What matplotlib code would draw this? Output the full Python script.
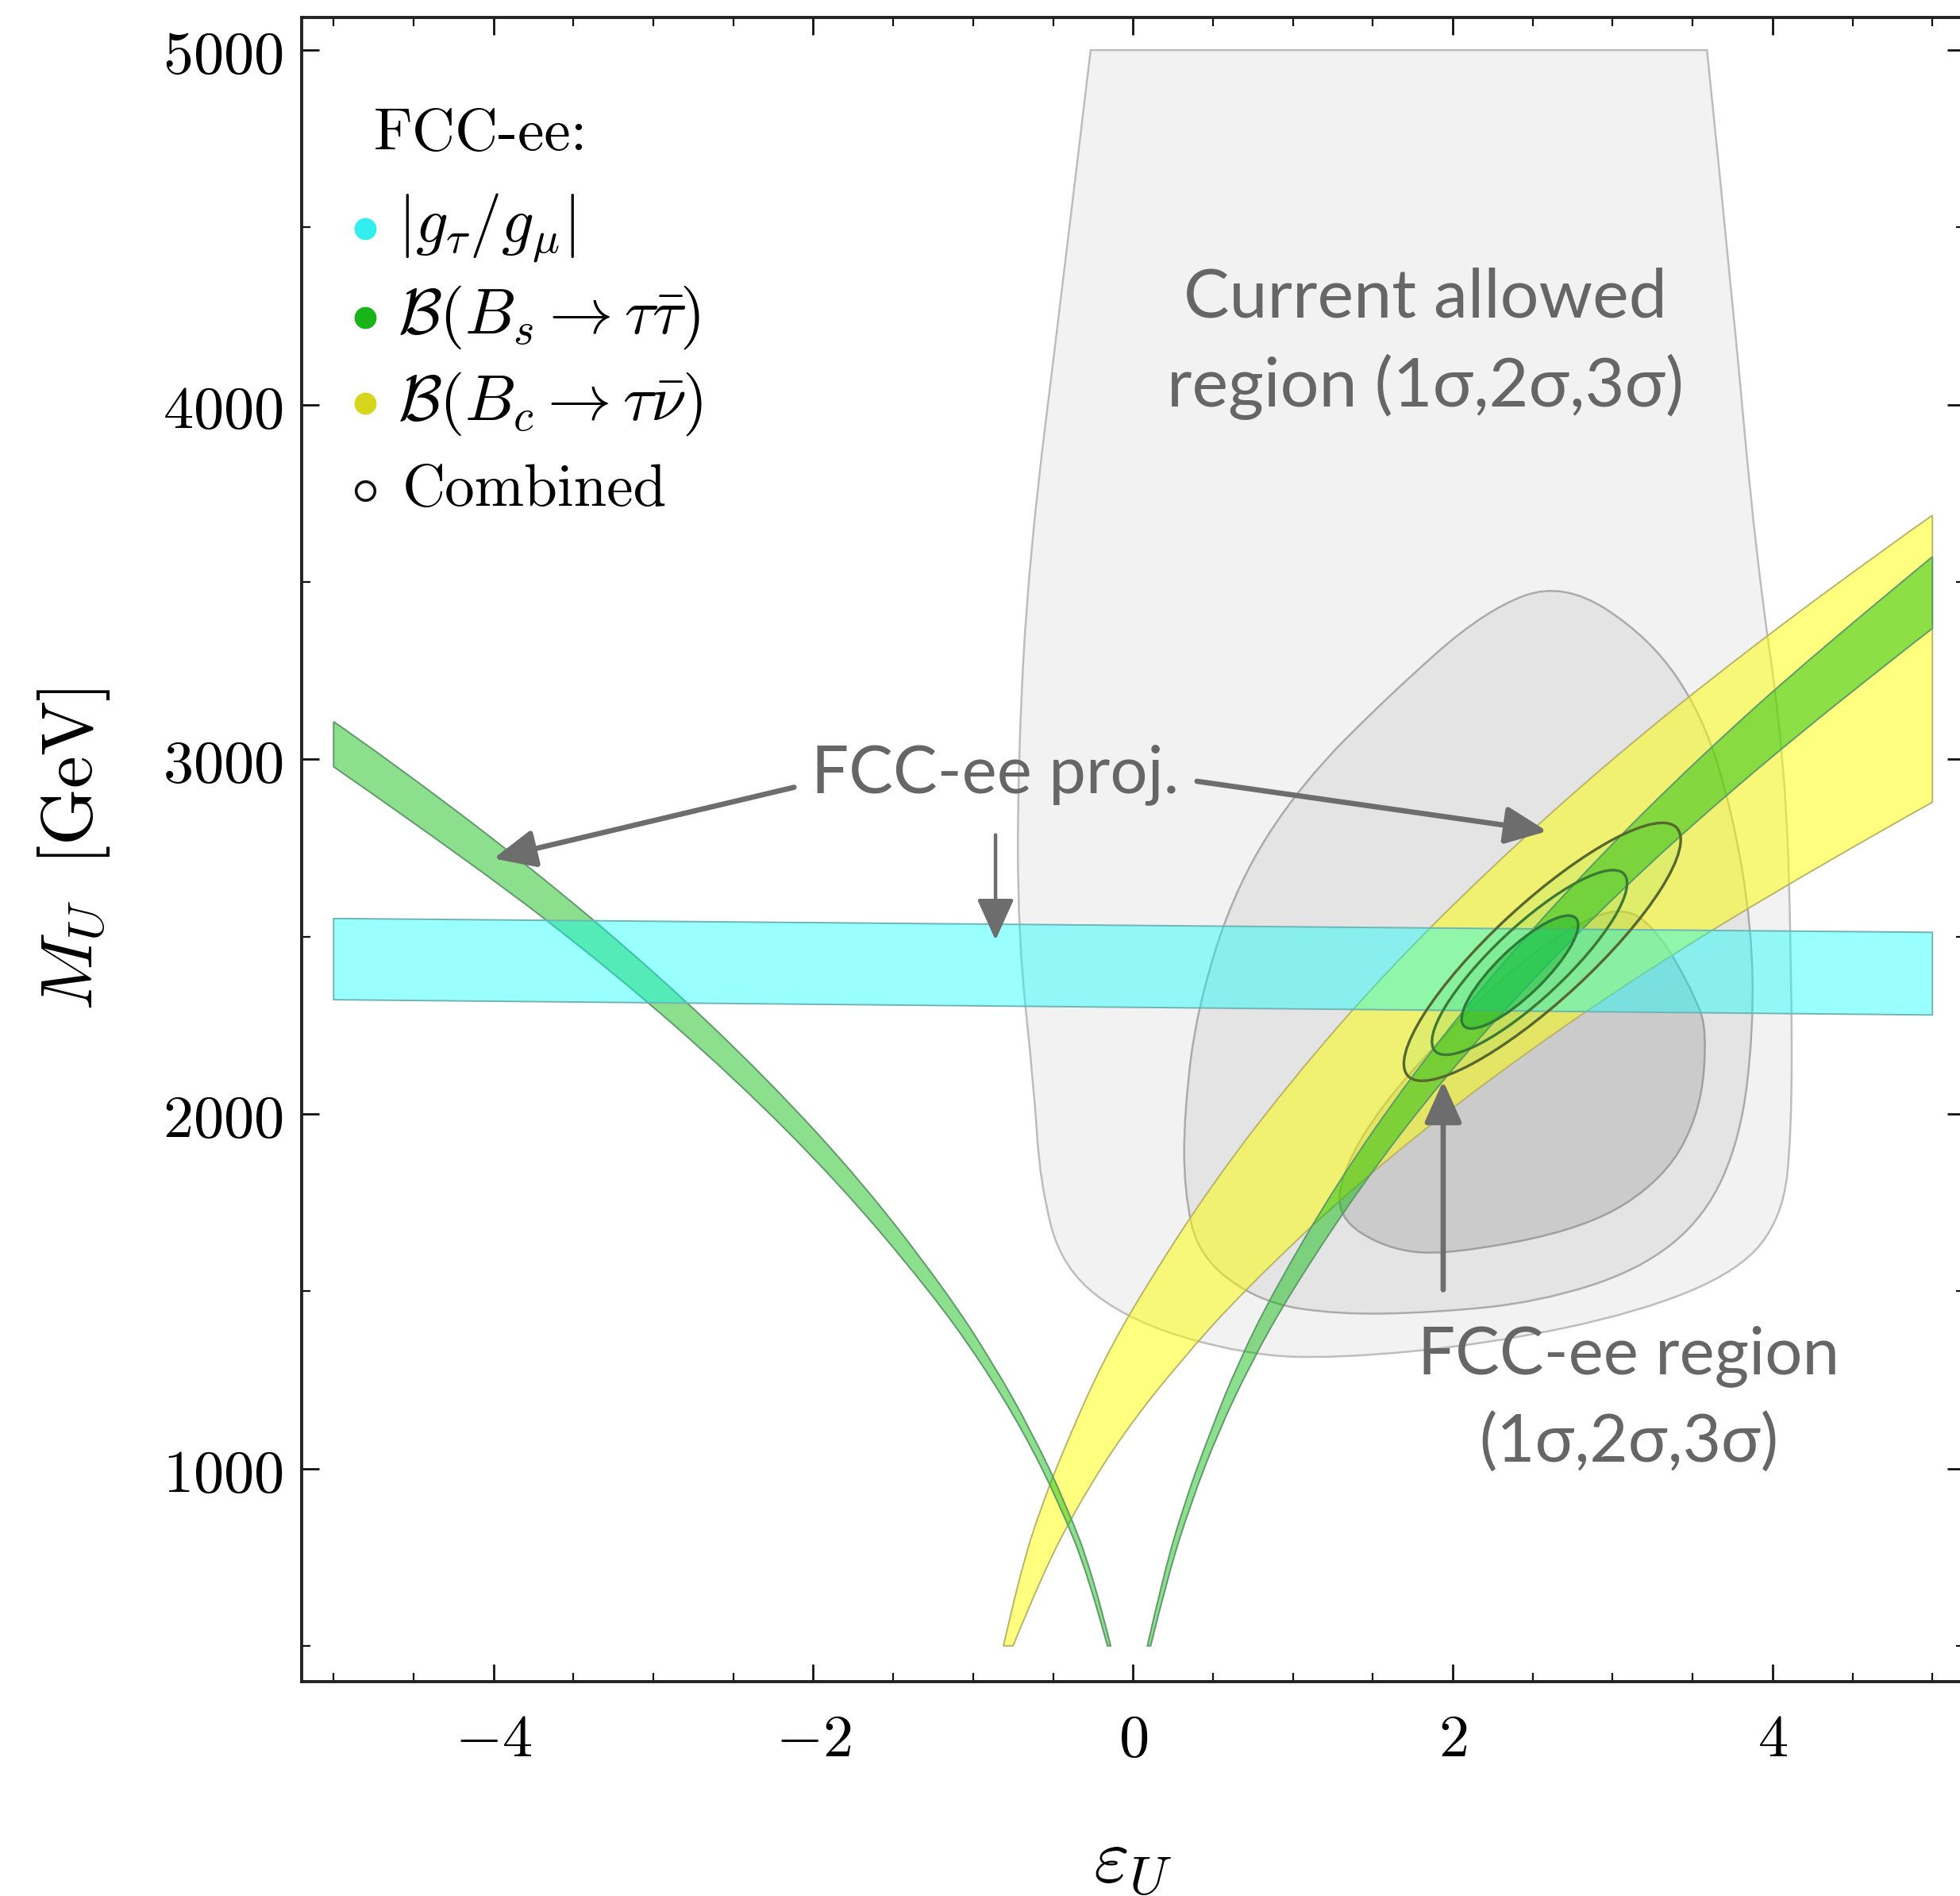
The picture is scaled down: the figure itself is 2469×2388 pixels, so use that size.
import numpy as np
import matplotlib.pyplot as plt
from matplotlib.path import Path
from matplotlib.patches import PathPatch, Circle
from matplotlib.transforms import Affine2D
from matplotlib.ticker import FuncFormatter

plt.rcParams['mathtext.fontset'] = 'cm'

# ---- data (eps_U, M_U in GeV) ----
# |g_tau/g_mu| band (cyan)
cyan_x = [-5.0, 5.0]
cyan_top = [2551, 2512]
cyan_bot = [2322, 2279]

# B(Bs -> tau tau) band, left branch (upper / lower edge)
bsL_up_x = [-5.0, -4.66, -3.78, -2.99, -2.29, -1.68, -1.17, -0.88, -0.63, -0.42, -0.25, -0.14]
bsL_up_y = [3106, 3000, 2700, 2400, 2100, 1800, 1500, 1300, 1100, 900, 700, 500]
bsL_lo_x = [-5.0, -4.11, -3.25, -2.49, -1.83, -1.27, -0.95, -0.68, -0.46, -0.28, -0.16]
bsL_lo_y = [2979, 2700, 2400, 2100, 1800, 1500, 1300, 1100, 900, 700, 500]

# B(Bs -> tau tau) band, right branch
bsR_up_x = [0.09, 0.19, 0.32, 0.48, 0.66, 0.88, 1.27, 1.73, 2.26, 2.86, 3.53, 4.27, 5.0]
bsR_up_y = [500, 700, 900, 1100, 1300, 1500, 1800, 2100, 2400, 2700, 3000, 3300, 3571]
bsR_lo_x = [0.11, 0.22, 0.36, 0.53, 0.74, 0.99, 1.43, 1.94, 2.54, 3.21, 3.97, 4.80, 5.0]
bsR_lo_y = [500, 700, 900, 1100, 1300, 1500, 1800, 2100, 2400, 2700, 3000, 3300, 3369]

# B(Bc -> tau nu) band (yellow)
bc_up_x = [-0.81, -0.71, -0.57, -0.39, -0.19, 0.06, 0.49, 1.00, 1.58, 2.25, 2.99, 3.82, 4.72, 5.0]
bc_up_y = [500, 700, 900, 1100, 1300, 1500, 1800, 2100, 2400, 2700, 3000, 3300, 3600, 3688]
bc_lo_x = [-0.75, -0.57, -0.34, -0.06, 0.29, 0.69, 1.39, 2.23, 3.19, 4.29, 5.0]
bc_lo_y = [500, 700, 900, 1100, 1300, 1500, 1800, 2100, 2400, 2700, 2879]

# current allowed region, 3 sigma / 2 sigma / 1 sigma outlines
s3_x = [-0.265, -0.45, -0.65, -0.72, -0.72, -0.62, -0.58, -0.44, 0.0, 0.70, 1.27, 2.22, 3.17,
        3.80, 4.06, 4.12, 4.12, 4.08, 3.895, 3.75, 3.59]
s3_y = [5000, 4300, 3574, 3000, 2500, 2080, 1800, 1560, 1411, 1321, 1310, 1351, 1441,
        1560, 1710, 1934, 2403, 3000, 3574, 4300, 5000]
s2_x = [2.69, 3.23, 3.56, 3.75, 3.87, 3.88, 3.80, 3.58, 3.17, 2.54, 1.90, 1.27, 0.79, 0.41,
        0.32, 0.32, 0.40, 0.65, 1.05, 1.60, 2.20]
s2_y = [3502, 3344, 3127, 2850, 2527, 2231, 1934, 1710, 1560, 1470, 1440, 1434, 1470, 1597,
        1784, 2000, 2300, 2650, 2930, 3180, 3420]
s1_x = [3.07, 2.70, 2.30, 1.90, 1.55, 1.32, 1.27, 1.58, 1.96, 2.85, 3.33, 3.55, 3.59, 3.52, 3.30]
s1_y = [2590, 2520, 2380, 2200, 2020, 1850, 1710, 1620, 1601, 1679, 1821, 2008, 2231, 2328, 2507]

# FCC-ee combined ellipses: centre, major and minor semi-axis vectors (data units)
ell_cx = [2.42, 2.48, 2.56]
ell_cy = [2400, 2427, 2457]
ell_ax = [0.35, 0.59, 0.84]
ell_ay = [152, 250, 350]
ell_bx = [-0.102, -0.156, -0.21]
ell_by = [47.6, 73, 99]

legend_labels = [r'$|g_\tau/g_\mu|$', r'$\mathcal{B}(B_s\to\tau\bar{\tau})$',
                 r'$\mathcal{B}(B_c\to\tau\bar{\nu})$']
legend_y = [4496, 4246, 4003]
legend_colors = ['#33eeee', '#18b418', '#d6d61c']


def edge(xs, ys):
    p = np.column_stack([xs, ys]).astype(float)
    n = len(p)
    if n == 2:
        return [p[0], p[1]], [Path.LINETO, Path.LINETO]
    verts, codes = [p[0]], [Path.LINETO]
    for i in range(1, n - 1):
        end = p[i + 1] if i == n - 2 else (p[i] + p[i + 1]) / 2
        verts += [p[i], end]
        codes += [Path.CURVE3, Path.CURVE3]
    return verts, codes


def band(ax, ux, uy, lx, ly, fc, ec, alpha, z):
    v1, c1 = edge(ux, uy)
    v2, c2 = edge(lx[::-1], ly[::-1])
    verts = v1 + v2 + [v1[0]]
    codes = [Path.MOVETO] + c1[1:] + c2 + [Path.CLOSEPOLY]
    ax.add_patch(PathPatch(Path(verts, codes), fc=fc, ec='none', alpha=alpha, zorder=z))
    ax.add_patch(PathPatch(Path(verts, codes), fc='none', ec=ec, lw=1.4, zorder=z))


def region(ax, xs, ys, fc, ec, z):
    p = np.column_stack([xs, ys]).astype(float)
    n = len(p)
    verts = [(p[-1] + p[0]) / 2]
    codes = [Path.MOVETO]
    for i in range(n):
        verts += [p[i], (p[i] + p[(i + 1) % n]) / 2]
        codes += [Path.CURVE3, Path.CURVE3]
    ax.add_patch(PathPatch(Path(verts, codes), fc=fc, ec=ec, lw=1.8, zorder=z))


fig = plt.figure(figsize=(24.69, 23.88), dpi=100)
W, H = 2469, 2388
x0, x1, ytop, ybot = 380, 2474.5, 22, 2117.5
ax = fig.add_axes([x0 / W, 1 - ybot / H, (x1 - x0) / W, (ybot - ytop) / H])
ax.set_xlim(-5.2, 5.2)
ax.set_ylim(400, 5092)

# current allowed region (top edge sits at 5000)
v, c = edge(s3_x, s3_y)
ax.add_patch(PathPatch(Path(v + [v[0]], [Path.MOVETO] + c[1:] + [Path.CLOSEPOLY]),
                       fc='#f2f2f2', ec='#bdbdbd', lw=1.8, zorder=1))
region(ax, s2_x, s2_y, '#e4e4e4', '#ababab', 2)
region(ax, s1_x, s1_y, '#cbcbcb', '#a0a0a0', 3)

band(ax, bc_up_x, bc_up_y, bc_lo_x, bc_lo_y, '#ffff00', '#b8b46a', 0.5, 4)
band(ax, bsL_up_x, bsL_up_y, bsL_lo_x, bsL_lo_y, '#00b800', '#5f9a6a', 0.45, 5)
band(ax, bsR_up_x, bsR_up_y, bsR_lo_x, bsR_lo_y, '#00b800', '#5f9a6a', 0.45, 5)
band(ax, cyan_x, cyan_top, cyan_x, cyan_bot, '#00ffff', '#6fb5b5', 0.4, 6)

# combined ellipses
ell_ec = ['#2f7a3a', '#3c7a34', '#56682e']
for i in range(3):
    tr = Affine2D(np.array([[ell_ax[i], ell_bx[i], ell_cx[i]],
                            [ell_ay[i], ell_by[i], ell_cy[i]],
                            [0, 0, 1]])) + ax.transData
    ax.add_patch(Circle((0, 0), 1, transform=tr, fc='#22bb33',
                        alpha=0.5 if i == 0 else 0.08, ec='none', zorder=7))
    ax.add_patch(Circle((0, 0), 1, transform=tr, fc='none', ec=ell_ec[i], lw=2.4, zorder=8))

# ticks and frame
ax.set_xticks([-4, -2, 0, 2, 4])
ax.set_xticks(np.arange(-5, 5.01, 0.5), minor=True)
ax.set_yticks([1000, 2000, 3000, 4000, 5000])
ax.set_yticks(np.arange(500, 5001, 500), minor=True)
fmt = FuncFormatter(lambda v, pos: r'$%d$' % round(v))
ax.xaxis.set_major_formatter(fmt)
ax.yaxis.set_major_formatter(fmt)
ax.tick_params(which='both', direction='in', top=True, right=True, labelsize=55,
               color='#111111')
ax.tick_params(which='major', length=16, width=2.0)
ax.tick_params(which='minor', length=8, width=1.6)
ax.tick_params(axis='x', pad=26)
ax.tick_params(axis='y', pad=17)
for s in ax.spines.values():
    s.set_linewidth(2.8)
    s.set_color('#222222')

fig.text(0.5778, 0.0075, r'$\varepsilon_U$', fontsize=70, ha='center', va='baseline')
fig.text(0.0377, 0.552, r'$M_U\;\;[\mathrm{GeV}]$', fontsize=66, rotation=90,
         ha='center', va='center')

# legend
ax.text(-4.75, 4760, 'FCC-ee:', fontsize=54, family='cmr10', va='center', ha='left', zorder=10)
for lab, yy, col in zip(legend_labels, legend_y, legend_colors):
    ax.plot(-4.805, yy, 'o', ms=20, color=col, mec='none', zorder=10)
    ax.text(-4.60, yy, lab, fontsize=58, va='center', ha='left', zorder=10)
ax.plot(-4.805, 3757, 'o', ms=17, mfc='none', mec='#111111', mew=2.6, zorder=10)
ax.text(-4.57, 3757, 'Combined', fontsize=54, family='cmr10', va='center', ha='left', zorder=10)

# annotations
gray = '#666666'
fam = ['Lato', 'DejaVu Sans']
ax.text(1.83, 4172, 'Current allowed\nregion (1σ,2σ,3σ)', fontsize=62, color=gray,
        family=fam, ha='center', va='center', linespacing=1.47, zorder=10)
ax.text(-0.86, 2956, 'FCC-ee proj.', fontsize=60, color=gray, family=fam,
        ha='center', va='center', zorder=10)
ax.text(3.10, 1194, 'FCC-ee region\n(1σ,2σ,3σ)', fontsize=60, color=gray, family=fam,
        ha='center', va='center', linespacing=1.54, zorder=10)

arrows = [((-2.12, 2921), (-4.0, 2720), 4.8),
          ((0.40, 2938), (2.59, 2797), 4.8),
          ((-0.86, 2787), (-0.86, 2490), 3.2),
          ((1.94, 1504), (1.94, 2093), 4.8)]
for start, tip, lw in arrows:
    ax.annotate('', xy=tip, xytext=start, zorder=11,
                arrowprops=dict(arrowstyle='-|>,head_length=0.8,head_width=0.36',
                                mutation_scale=40, color='#6d6d6d', lw=lw,
                                shrinkA=0, shrinkB=0))

fig.savefig('out.png', dpi=100)
